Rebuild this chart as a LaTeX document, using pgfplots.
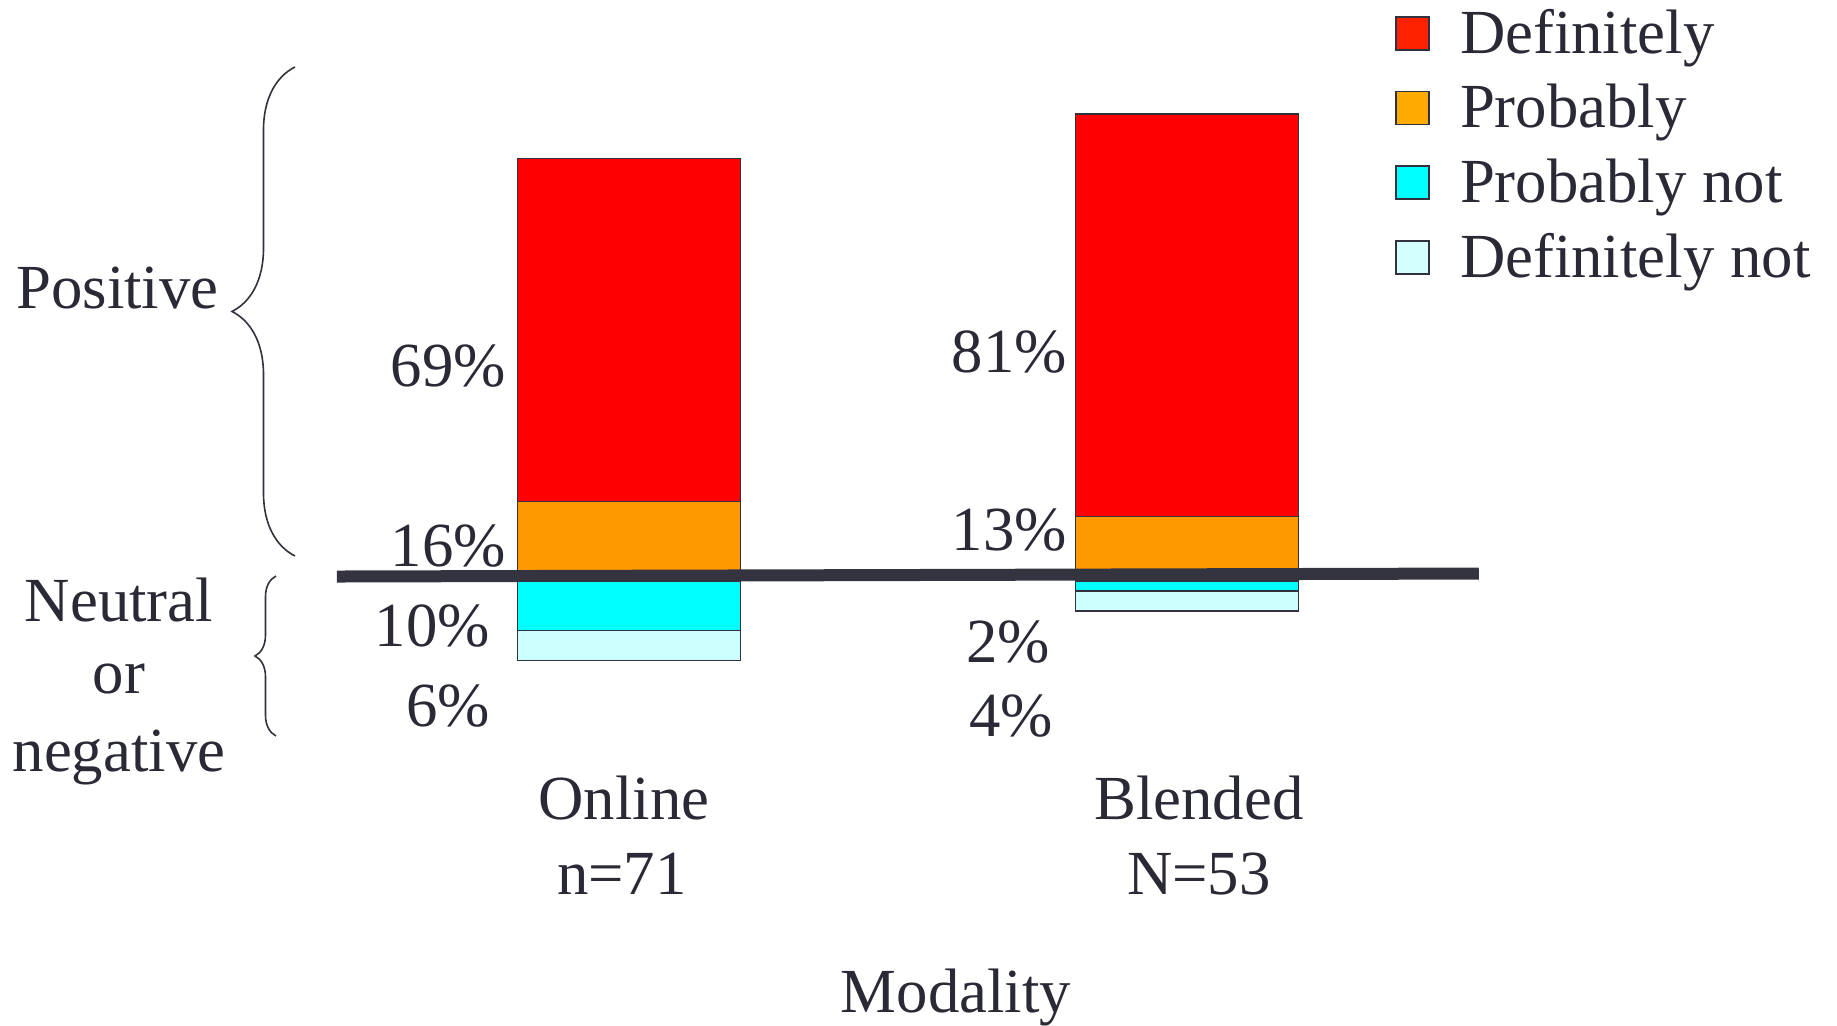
\documentclass[border=0pt]{standalone}
\usepackage{fontspec}
\setmainfont{Liberation Serif}
\usepackage{pgfplots}
\pgfplotsset{compat=1.18}
\usetikzlibrary{decorations.pathreplacing}

\definecolor{txt}{RGB}{42,42,54}
\definecolor{edge}{RGB}{50,50,62}
\definecolor{defred}{RGB}{255,0,0}
\definecolor{proborange}{RGB}{255,153,0}
\definecolor{probnot}{RGB}{0,255,255}
\definecolor{defnot}{RGB}{204,255,255}
\definecolor{legred}{RGB}{255,34,0}
\definecolor{legorange}{RGB}{255,170,0}
\definecolor{legnot}{RGB}{212,255,255}
\definecolor{zeroline}{RGB}{52,52,64}

\newcommand{\lbl}{\fontsize{31.5}{37}\selectfont}

% 1 px of the reference = 0.5bp; value v sits at y = 581 - 4.97 v px
\pgfplotsset{
  likert/.style={
    at={(169.5bp,172.8bp)}, anchor=south west,
    scale only axis, width=573.5bp, height=298.2bp,
    xmin=-0.52, xmax=1.536, ymin=-20, ymax=100,
    axis lines=none, ybar stacked, bar width=0.4,
    clip=false,
  },
  seg/.style={draw=edge, line width=0.8bp},
  sqlegend/.style={legend image code/.code={
    \draw[##1, line width=0.8bp] (0bp,-8.5bp) rectangle (16.5bp,8bp);}},
}

\begin{document}
\begin{tikzpicture}[every node/.append style={text=txt}]
\useasboundingbox (0,0) rectangle (918.5bp,513bp);

% positive answers
\begin{axis}[likert,
  legend style={at={(0.9207,1.126)}, anchor=north west, draw=none, fill=none,
    inner sep=0pt, nodes={inner sep=0pt, text=txt}, font=\lbl, row sep=14bp,
    /tikz/every odd column/.append style={column sep=15bp}},
  legend cell align=left]
\addplot[seg, fill=proborange, forget plot] coordinates {(0,16) (1,13)};
\addplot[seg, fill=defred, forget plot] coordinates {(0,69) (1,81)};
\addlegendimage{fill=legred, draw=edge, sqlegend}
\addlegendentry{Definitely}
\addlegendimage{fill=legorange, draw=edge, sqlegend}
\addlegendentry{Probably}
\addlegendimage{fill=probnot, draw=edge, sqlegend}
\addlegendentry{Probably not}
\addlegendimage{fill=legnot, draw=edge, sqlegend}
\addlegendentry{Definitely not}
\end{axis}

% neutral or negative answers
\begin{axis}[likert]
\addplot[seg, fill=probnot] coordinates {(0,-10) (1,-2)};
\addplot[seg, fill=defnot] coordinates {(0,-6) (1,-4)};
\addplot[sharp plot, stack plots=false, zeroline, line width=6bp]
  coordinates {(-0.524,0.9) (1.523,1.5)};
\end{axis}

\begin{scope}[x=0.5bp, y=-0.5bp, shift={(0bp,513bp)}, font=\lbl]
  % group braces
  \draw[edge, line width=0.8bp, decorate, decoration={brace, amplitude=31.5bp}]
    (295,556) -- (295,67);
  \draw[edge, line width=0.8bp, decorate, decoration={brace, amplitude=10.5bp}]
    (276,736) -- (276,576);
  \node[anchor=base] at (117.5,309) {Positive};
  \node[anchor=base] at (119,621.7) {Neutral};
  \node[anchor=base] at (119,694) {or};
  \node[anchor=base] at (119,772) {negative};

  % percentages
  \node[anchor=base east] at (513,386.5) {69\%};
  \node[anchor=base east] at (513,567) {16\%};
  \node[anchor=base east] at (497,647) {10\%};
  \node[anchor=base east] at (497,727) {6\%};
  \node[anchor=base east] at (1074,373) {81\%};
  \node[anchor=base east] at (1074,551) {13\%};
  \node[anchor=base east] at (1057,663) {2\%};
  \node[anchor=base east] at (1060,737) {4\%};

  % categories
  \node[anchor=base] at (624,820) {Online};
  \node[anchor=base] at (622,895) {n=71};
  \node[anchor=base] at (1199,820) {Blended};
  \node[anchor=base] at (1199,895) {N=53};
  \node[anchor=base] at (956,1013) {Modality};
\end{scope}
\end{tikzpicture}
\end{document}
